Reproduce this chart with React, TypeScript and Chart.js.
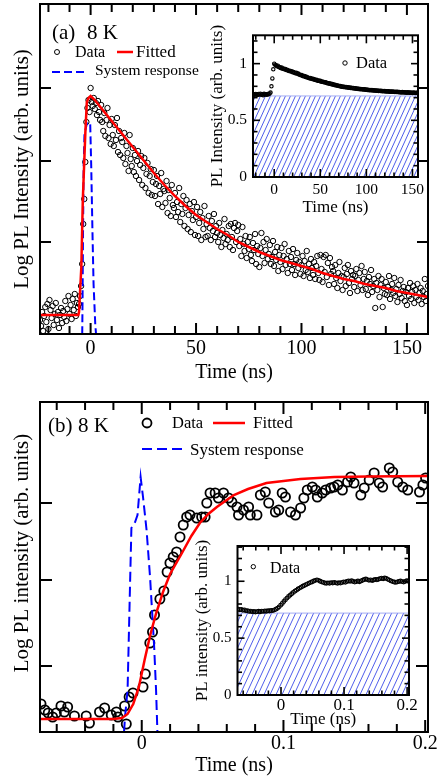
import React, { useEffect, useRef } from 'react';
import { Chart, registerables } from 'chart.js';

Chart.register(...registerables);
Chart.defaults.color = '#000';
const FONT = '"Liberation Serif", "Times New Roman", serif';
Chart.defaults.font.family = FONT;

// ---------------- Panel (a) main : log PL (arb. log units) vs time (ns)
const A_T0 = -24;
const A_DT = 0.5;
const A_DATA = [
  14, 8, 22, 3, 18, 27, 12, 30, 5, 34,
  24, 16, 28, 9, 20, 31, 14, 22, 6, 19,
  26, 11, 23, 17, 33, 13, 25, 38, 20, 29,
  15, 35, 24, 40, 18, 31, 27, 30, 38, 48,
  70, 110, 135, 172, 212, 226, 234, 222,
  246, 232, 228, 236, 225, 231, 219, 233, 222, 214,
  229, 212, 203, 221, 198, 214, 226, 196, 209, 190,
  215, 199, 188, 209, 194, 216, 182, 203, 179, 196,
  192, 176, 201, 170, 188, 181, 163, 199, 175, 168,
  186, 162, 179, 158, 173, 183, 154, 169, 178, 149,
  166, 176, 146, 160, 171, 141, 158, 165, 139, 152,
  164, 138, 150, 158, 130, 148, 140, 161, 127, 145,
  143, 131, 153, 121, 144, 136, 118, 149, 129, 126,
  141, 117, 132, 122, 146, 112, 130, 120, 138, 108,
  126, 134, 105, 119, 130, 102, 123, 114, 132, 99,
  117, 127, 98, 111, 122, 94, 116, 105, 128, 97,
  110, 98, 118, 106, 94, 113, 103, 120, 97, 108,
  101, 92, 111, 99, 87, 104, 96, 115, 90, 100,
  94, 108, 87, 110, 97, 84, 106, 111, 92, 103,
  109, 88, 95, 78, 107, 90, 83, 98, 76, 92,
  85, 97, 79, 73, 91, 84, 100, 70, 88, 80,
  67, 86, 101, 78, 92, 71, 84, 95, 75, 80,
  89, 70, 77, 93, 68, 82, 74, 87, 63, 79,
  72, 86, 65, 78, 90, 69, 75, 61, 83, 70,
  77, 64, 85, 70, 59, 74, 81, 66, 72, 60,
  69, 78, 58, 73, 64, 83, 62, 70, 56, 75,
  66, 59, 72, 55, 68, 78, 61, 54, 79, 65,
  52, 77, 62, 79, 57, 71, 49, 76, 60, 67,
  63, 50, 69, 56, 46, 61, 72, 53, 58, 44,
  57, 66, 48, 60, 69, 51, 41, 63, 55, 59,
  47, 58, 65, 43, 54, 61, 49, 68, 44, 55,
  62, 45, 53, 39, 57, 50, 64, 42, 48, 55,
  26, 51, 44, 58, 37, 49, 55, 27, 46, 40,
  52, 39, 47, 58, 35, 44, 50, 41, 56, 38,
  45, 32, 49, 40, 54, 36, 43, 47, 33, 42,
  29, 46, 38, 51, 35, 42, 48, 31, 44, 37,
  50, 34, 41, 46, 30, 43, 37, 55, 33, 40,
  48,
];
const A_FIT_T = [-24, -5.8, -5.5, -4.4, -3.7, -2.5, -1.8, -1.0, 0, 2, 5, 10, 15, 20, 25, 30, 35, 40, 45, 50, 55, 60, 65, 70, 75, 80, 85, 90, 95, 100, 105, 110, 115, 120, 125, 130, 135, 140, 145, 150, 155, 160];
const A_FIT_V = [19, 19, 22, 67, 134, 201, 232, 236, 238, 234, 226, 213, 200, 187, 174, 161, 149, 138, 128, 119, 112, 105, 99, 92, 87, 82, 78, 74, 71, 68, 65, 61, 58, 55, 53, 50, 48, 46, 43, 41, 39, 37];
const A_SYS_T = [-24, -4.0, -3.8, -3.6, -3.3, -2.9, -1.7, -0.2, 0.3, 0.9, 1.4, 2.2, 2.8, 160];
const A_SYS_V = [-6, -6, 40, 100, 167, 200, 211, 211, 167, 100, 50, 10, -6, -6];
const A_X_RANGE = [-24, 160];
const A_Y_RANGE = [0, 330];
const A_X_LABELS = [0, 50, 100, 150];
const A_X_MINOR = [-20, -10, 10, 20, 30, 40, 60, 70, 80, 90, 110, 120, 130, 140];
const A_Y_TICKS = [92, 173, 246];

// ---------------- Inset (a): linear PL
const AI_T0 = -23;
const AI_DT = 1;
const AI_DATA = [
  0.728, 0.731, 0.725, 0.733, 0.729, 0.724, 0.732, 0.727, 0.735, 0.726, 0.73, 0.722, 0.734, 0.728, 0.731, 0.726, 0.733, 0.729, 0.736,
  0.745, 0.8, 0.87, 0.95, 1.0, 0.99, 0.985, 0.978, 0.982, 0.97,
  0.968, 0.962, 0.966, 0.955, 0.958, 0.95, 0.953, 0.944, 0.947, 0.94,
  0.936, 0.938, 0.93, 0.932, 0.924, 0.927, 0.92, 0.916, 0.919, 0.91,
  0.912, 0.905, 0.903, 0.898, 0.9, 0.892, 0.889, 0.891, 0.883, 0.885,
  0.878, 0.876, 0.872, 0.874, 0.867, 0.869, 0.862, 0.864, 0.858, 0.855,
  0.857, 0.85, 0.852, 0.846, 0.848, 0.841, 0.843, 0.837, 0.839, 0.833,
  0.835, 0.829, 0.826, 0.828, 0.822, 0.824, 0.818, 0.82, 0.814, 0.816,
  0.81, 0.812, 0.807, 0.804, 0.806, 0.8, 0.802, 0.797, 0.799, 0.794,
  0.796, 0.792, 0.794, 0.79, 0.792, 0.788, 0.79, 0.786, 0.788, 0.784,
  0.785, 0.781, 0.783, 0.779, 0.781, 0.777, 0.779, 0.775, 0.777, 0.773,
  0.775, 0.771, 0.773, 0.77, 0.772, 0.768, 0.77, 0.766, 0.768, 0.765,
  0.767, 0.763, 0.765, 0.762, 0.764, 0.761, 0.763, 0.759, 0.761, 0.758,
  0.76, 0.757, 0.759, 0.756, 0.758, 0.755, 0.757, 0.754, 0.756, 0.753,
  0.755, 0.752, 0.754, 0.751, 0.753, 0.75, 0.752, 0.749, 0.751, 0.748,
  0.75, 0.748, 0.746, 0.749, 0.747, 0.745, 0.748, 0.746, 0.744, 0.747,
  0.745, 0.743, 0.746, 0.744, 0.742, 0.745, 0.743, 0.741, 0.744, 0.742, 0.745,
];
const AI_X_RANGE = [-23, 156];
const AI_Y_RANGE = [0, 1.25];
const AI_BASE = 0.715;
const AI_X_LABELS = [0, 50, 100, 150];
const AI_X_MINOR = [-20, -10, 10, 20, 30, 40, 60, 70, 80, 90, 110, 120, 130, 140];
const AI_Y_LABELS = [0, 0.5, 1];
const AI_Y_MINOR = [0.1, 0.2, 0.3, 0.4, 0.6, 0.7, 0.8, 0.9, 1.1, 1.2];

// ---------------- Panel (b) main
const B_DATA_T = [
  -0.0711, -0.0684, -0.066, -0.0629, -0.0603, -0.057, -0.0546, -0.0523, -0.0475, -0.0392,
  -0.0369, -0.0298, -0.0262, -0.0215, -0.0179, -0.0168, -0.0121, -0.0109, -0.0089, -0.0062,
  0.0009, 0.0025, 0.0057, 0.0076, 0.009, 0.0128, 0.0156, 0.0179, 0.0199, 0.0222,
  0.0246, 0.027, 0.0293, 0.0317, 0.034, 0.0388, 0.0423, 0.0447, 0.0459, 0.0482,
  0.0518, 0.0541, 0.0577, 0.0612, 0.0636, 0.0672, 0.0683, 0.0718, 0.0754, 0.0766,
  0.0813, 0.0837, 0.0872, 0.0896, 0.0943, 0.0967, 0.0991, 0.1014, 0.105, 0.1085,
  0.1121, 0.1144, 0.1168, 0.1204, 0.1227, 0.1239, 0.1274, 0.1298, 0.1333, 0.1357,
  0.1383, 0.1416, 0.1452, 0.1475, 0.1498, 0.1546, 0.157, 0.1605, 0.164, 0.1676,
  0.17, 0.1747, 0.1771, 0.1806, 0.1842, 0.1877, 0.196, 0.1984, 0.2003,
];
const B_DATA_V = [
  28, 22, 19, 15, 19, 26, 20, 25, 16, 16,
  9, 20, 24, 17, 20, 15, 26, 8, 35, 39,
  45, 58, 89, 100, 117, 133, 141, 160, 169, 175,
  180, 195, 207, 215, 217, 214, 215, 215, 229, 239,
  239, 234, 239, 234, 230, 225, 217, 222, 225, 217,
  217, 237, 240, 229, 220, 222, 239, 235, 220, 217,
  224, 234, 242, 245, 242, 235, 239, 242, 244, 245,
  247, 242, 250, 255, 249, 237, 244, 252, 259, 249,
  245, 264, 260, 250, 245, 242, 240, 247, 254,
];
const B_FIT_T = [-0.0718, -0.02, -0.014, -0.01, -0.006, -0.002, 0.002, 0.006, 0.01, 0.015, 0.02, 0.028, 0.035, 0.041, 0.047, 0.053, 0.06, 0.065, 0.075, 0.088, 0.1, 0.112, 0.136, 0.16, 0.202];
const B_FIT_V = [13, 13, 14, 18, 28, 45, 72, 97, 118, 140, 158, 178, 196, 209, 218, 225, 232, 237, 243, 249, 251, 253, 255, 255.5, 256];
const B_SYS_T = [-0.0718, -0.0128, -0.0118, -0.01, -0.0083, -0.0073, -0.0047, -0.003, -0.0008, 0.0009, 0.0034, 0.0059, 0.0087, 0.0101, 0.0112, 0.202];
const B_SYS_V = [-6, -6, 15, 42, 145, 204, 210, 217, 255, 235, 202, 154, 87, 42, -6, -6];
const B_X_RANGE = [-0.0718, 0.202];
const B_Y_RANGE = [0, 330];
const B_X_LABELS = [0, 0.1, 0.2];
const B_X_MINOR = [-0.06, -0.04, -0.02, 0.02, 0.04, 0.06, 0.08, 0.12, 0.14, 0.16, 0.18];
const B_Y_TICKS = [66, 152, 229];

// ---------------- Inset (b)
const BI_T0 = -0.068;
const BI_DT = 0.0025;
const BI_DATA = [
  0.755, 0.75, 0.752, 0.745, 0.748, 0.74, 0.742, 0.735, 0.737, 0.731,
  0.734, 0.73, 0.733, 0.736, 0.732, 0.737, 0.735, 0.739, 0.736, 0.741,
  0.739, 0.744, 0.742, 0.748, 0.755, 0.763, 0.775, 0.79, 0.805, 0.822,
  0.838, 0.852, 0.866, 0.878, 0.89, 0.902, 0.913, 0.922, 0.932, 0.94,
  0.948, 0.956, 0.963, 0.97, 0.977, 0.984, 0.99, 0.996, 1.002, 1.008,
  1.012, 1.008, 1.0, 0.995, 0.99, 0.985, 0.982, 0.986, 0.983, 0.988,
  0.985, 0.99, 0.986, 0.982, 0.987, 0.984, 0.99, 0.995, 0.991, 0.998,
  1.003, 0.999, 1.004, 0.998, 0.993, 0.997, 1.002, 0.996, 1.003, 1.009,
  1.015, 1.02, 1.014, 1.008, 1.012, 1.006, 1.011, 1.017, 1.013, 1.018,
  1.023, 1.027, 1.022, 1.028, 1.024, 1.017, 1.01, 1.003, 0.997, 0.993,
  0.99, 0.995, 0.998, 1.002, 0.997, 0.994, 0.999, 1.004, 1.0,
];
const BI_X_RANGE = [-0.069, 0.203];
const BI_Y_RANGE = [0, 1.31];
const BI_BASE = 0.72;
const BI_X_LABELS = [0, 0.1, 0.2];
const BI_X_MINOR = [-0.06, -0.04, -0.02, 0.02, 0.04, 0.06, 0.08, 0.12, 0.14, 0.16, 0.18];
const BI_Y_LABELS = [0, 0.5, 1];
const BI_Y_MINOR = [0.1, 0.2, 0.3, 0.4, 0.6, 0.7, 0.8, 0.9, 1.1, 1.2, 1.3];

// ---------------- helpers
const zip = (ts: number[], vs: number[]) => ts.map((t, i) => ({ x: t, y: vs[i] }));
const seq = (t0: number, dt: number, vs: number[]) => vs.map((v, i) => ({ x: +(t0 + i * dt).toFixed(5), y: v }));

function makeHatch(w: number, h: number) {
  const c = document.createElement('canvas');
  c.width = w; c.height = h;
  const g = c.getContext('2d')!;
  g.fillStyle = '#ffffff';
  g.fillRect(0, 0, w, h);
  g.strokeStyle = 'rgba(60,75,232,0.9)';
  g.lineWidth = 1;
  for (const k of [-1, 0, 1]) {
    g.beginPath();
    g.moveTo(k * w, h);
    g.lineTo(k * w + w, 0);
    g.stroke();
  }
  return g.createPattern(c, 'repeat');
}

function overlayPlugin(spec: any) {
  return {
    id: 'frameOverlay',
    beforeDraw(chart: any) {
      if (!spec.white) return;
      const { ctx, chartArea: a } = chart;
      ctx.save();
      ctx.fillStyle = '#fff';
      ctx.fillRect(a.left, a.top, a.right - a.left, a.bottom - a.top);
      ctx.restore();
    },
    afterDraw(chart: any) {
      const { ctx, chartArea: a, scales } = chart;
      const xs = scales.x, ys = scales.y;
      ctx.save();
      ctx.strokeStyle = '#000';
      ctx.lineWidth = spec.tickW;
      const seg = (x1: number, y1: number, x2: number, y2: number) => {
        ctx.beginPath(); ctx.moveTo(x1, y1); ctx.lineTo(x2, y2); ctx.stroke();
      };
      const xGroups: [number[], number][] = [[spec.xMajor, spec.majorLen], [spec.xMinor, spec.minorLen]];
      for (const [vals, len] of xGroups) {
        for (const v of vals) {
          const p = xs.getPixelForValue(v);
          seg(p, a.bottom, p, a.bottom - len);
          seg(p, a.top, p, a.top + len);
        }
      }
      const yGroups: [number[], number][] = [[spec.yMajor, spec.yMajorLen ?? spec.majorLen], [spec.yMinor, spec.minorLen]];
      for (const [vals, len] of yGroups) {
        for (const v of vals) {
          const p = ys.getPixelForValue(v);
          seg(a.left, p, a.left + len, p);
          seg(a.right, p, a.right - len, p);
        }
      }
      ctx.lineWidth = spec.frameW;
      ctx.strokeRect(a.left, a.top, a.right - a.left, a.bottom - a.top);
      for (const it of spec.ann) {
        if (it.k === 'text') {
          ctx.fillStyle = '#000';
          ctx.font = `${it.s}px ${FONT}`;
          ctx.textAlign = 'left';
          ctx.textBaseline = 'alphabetic';
          ctx.fillText(it.t, it.x, it.y);
        } else if (it.k === 'vtext') {
          ctx.save();
          ctx.fillStyle = '#000';
          ctx.font = `${it.s}px ${FONT}`;
          ctx.textAlign = 'center';
          ctx.textBaseline = 'middle';
          ctx.translate(it.x, it.y);
          ctx.rotate(-Math.PI / 2);
          ctx.fillText(it.t, 0, 0);
          ctx.restore();
        } else if (it.k === 'circle') {
          ctx.setLineDash([]);
          ctx.lineWidth = it.w;
          ctx.strokeStyle = '#000';
          ctx.beginPath(); ctx.arc(it.x, it.y, it.r, 0, Math.PI * 2); ctx.stroke();
        } else if (it.k === 'line') {
          ctx.lineWidth = it.w;
          ctx.strokeStyle = it.c;
          ctx.setLineDash(it.d || []);
          seg(it.x1, it.y, it.x2, it.y);
          ctx.setLineDash([]);
        }
      }
      ctx.restore();
    },
  };
}

function makeConfig(spec: any) {
  const [aL, aT, aR, aB] = spec.area;
  return {
    type: 'line',
    data: { datasets: spec.datasets },
    options: {
      responsive: false,
      animation: false,
      devicePixelRatio: 1,
      events: [],
      layout: { padding: { left: 0, top: aT, right: spec.w - aR, bottom: 0 } },
      plugins: { legend: { display: false }, tooltip: { enabled: false } },
      elements: { line: { tension: 0 } },
      scales: {
        x: {
          type: 'linear',
          position: 'bottom',
          min: spec.xr[0],
          max: spec.xr[1],
          grid: { display: false, drawTicks: false },
          border: { display: false },
          afterFit: (s: any) => { s.height = spec.h - aB; },
          afterBuildTicks: (s: any) => { s.ticks = spec.xLabels.map((v: number) => ({ value: v })); },
          ticks: {
            autoSkip: false, maxRotation: 0, minRotation: 0,
            padding: spec.xLabelPad,
            font: { family: FONT, size: spec.xLabelSize, lineHeight: 1.2 },
            color: '#000',
            callback: (v: any) => String(+Number(v).toFixed(4)),
          },
          title: {
            display: true, text: spec.xTitle, color: '#000',
            font: { family: FONT, size: spec.xTitleSize, lineHeight: 1.2 },
            padding: { top: 0, bottom: spec.xTitlePad },
          },
        },
        y: {
          type: 'linear',
          position: 'left',
          min: spec.yr[0],
          max: spec.yr[1],
          grid: { display: false, drawTicks: false },
          border: { display: false },
          afterFit: (s: any) => { s.width = aL; },
          afterBuildTicks: (s: any) => { s.ticks = spec.yLabels.map((v: number) => ({ value: v })); },
          ticks: {
            display: spec.yLabelsShow,
            autoSkip: false,
            padding: spec.yLabelPad || 0,
            font: { family: FONT, size: spec.yLabelSize || 12, lineHeight: 1.2 },
            color: '#000',
            callback: (v: any) => String(+Number(v).toFixed(4)),
          },
          title: {
            display: !!spec.yTitle, text: spec.yTitle || '', color: '#000',
            font: { family: FONT, size: spec.yTitleSize || 12, lineHeight: 1.2 },
            padding: { top: spec.yTitlePad || 0, bottom: 0 },
          },
        },
      },
    },
    plugins: [overlayPlugin(spec)],
  };
}

const dataStyle = (r: number, w: number) => ({
  showLine: false,
  pointStyle: 'circle',
  pointRadius: r,
  pointHoverRadius: r,
  pointBorderWidth: w,
  pointBorderColor: '#000',
  pointBackgroundColor: 'rgba(0,0,0,0)',
  borderColor: '#000',
});
const lineStyle = (color: string, w: number, dash: number[] = []) => ({
  showLine: true,
  borderColor: color,
  borderWidth: w,
  borderDash: dash,
  pointRadius: 0,
  pointHoverRadius: 0,
  fill: false,
});

function specA() {
  return {
    w: 440, h: 390, area: [40, 4, 428, 334],
    xr: A_X_RANGE, yr: A_Y_RANGE,
    xLabels: A_X_LABELS, xLabelSize: 20, xLabelPad: 3,
    xTitle: 'Time (ns)', xTitleSize: 20, xTitlePad: 5.5,
    yLabels: A_Y_TICKS, yLabelsShow: false,
    yTitle: 'Log PL Intensity (arb. units)', yTitleSize: 21, yTitlePad: 9.5,
    xMajor: A_X_LABELS, xMinor: A_X_MINOR, yMajor: A_Y_TICKS, yMinor: [],
    majorLen: 11, minorLen: 8, tickW: 2, frameW: 2,
    white: false,
    ann: [
      { k: 'text', t: '(a)', x: 52, y: 38.5, s: 21 },
      { k: 'text', t: '8 K', x: 87, y: 38.5, s: 21 },
      { k: 'circle', x: 57, y: 52, r: 2.5, w: 1 },
      { k: 'text', t: 'Data', x: 75, y: 56.7, s: 16 },
      { k: 'line', x1: 117, x2: 133, y: 52, c: '#ff0000', w: 2.5 },
      { k: 'text', t: 'Fitted', x: 136, y: 56.7, s: 17 },
      { k: 'line', x1: 52, x2: 88, y: 72, c: '#0000ff', w: 2, d: [8, 4] },
      { k: 'text', t: 'System response', x: 95, y: 75.3, s: 15.5 },
    ],
    datasets: [
      { data: zip(A_FIT_T, A_FIT_V), ...lineStyle('#ff0000', 2.5) },
      { data: zip(A_SYS_T, A_SYS_V), ...lineStyle('#0000ff', 2, [8, 4]) },
      { data: seq(A_T0, A_DT, A_DATA), ...dataStyle(2.7, 1) },
    ],
  };
}

function specAI() {
  return {
    w: 245, h: 200, area: [58, 14, 223, 157],
    xr: AI_X_RANGE, yr: AI_Y_RANGE,
    xLabels: AI_X_LABELS, xLabelSize: 15.5, xLabelPad: 3.7,
    xTitle: 'Time (ns)', xTitleSize: 17, xTitlePad: 1.8,
    yLabels: AI_Y_LABELS, yLabelsShow: true, yLabelSize: 15.5, yLabelPad: 6,
    yTitle: 'PL Intensity (arb. units)', yTitleSize: 17, yTitlePad: 12.8,
    xMajor: AI_X_LABELS, xMinor: AI_X_MINOR, yMajor: AI_Y_LABELS, yMinor: AI_Y_MINOR,
    majorLen: 8, yMajorLen: 7, minorLen: 4.5, tickW: 1.6, frameW: 2,
    white: true,
    ann: [
      { k: 'circle', x: 150, y: 43, r: 2.2, w: 1 },
      { k: 'text', t: 'Data', x: 161, y: 48.3, s: 16.5 },
    ],
    datasets: [
      { data: seq(AI_T0, AI_DT, AI_DATA), ...dataStyle(1.7, 1.1) },
      {
        data: [{ x: AI_X_RANGE[0], y: AI_BASE }, { x: AI_X_RANGE[1], y: AI_BASE }],
        showLine: true, fill: 'origin', backgroundColor: makeHatch(5, 11),
        borderColor: '#a3abf3', borderWidth: 1, pointRadius: 0,
      },
    ],
  };
}

function specB() {
  return {
    w: 440, h: 388, area: [40, 12, 428, 342],
    xr: B_X_RANGE, yr: B_Y_RANGE,
    xLabels: B_X_LABELS, xLabelSize: 20, xLabelPad: 0,
    xTitle: 'Time (ns)', xTitleSize: 20, xTitlePad: 0.5,
    yLabels: B_Y_TICKS, yLabelsShow: false,
    yTitle: '', yTitleSize: 21, yTitlePad: 0,
    xMajor: B_X_LABELS, xMinor: B_X_MINOR, yMajor: B_Y_TICKS, yMinor: [],
    majorLen: 12, minorLen: 8, tickW: 2, frameW: 2,
    white: false,
    ann: [
      { k: 'vtext', t: 'Log PL intensity (arb. units)', x: 22, y: 163, s: 21 },
      { k: 'text', t: '(b)', x: 48, y: 41.7, s: 21 },
      { k: 'text', t: '8 K', x: 78, y: 41.7, s: 21 },
      { k: 'circle', x: 147, y: 33, r: 4.5, w: 1.8 },
      { k: 'text', t: 'Data', x: 172, y: 38, s: 16.5 },
      { k: 'line', x1: 213, x2: 245, y: 33, c: '#ff0000', w: 2.5 },
      { k: 'text', t: 'Fitted', x: 253, y: 38, s: 17 },
      { k: 'line', x1: 142, x2: 183, y: 59, c: '#0000ff', w: 2, d: [10, 5] },
      { k: 'text', t: 'System response', x: 190, y: 65, s: 17 },
    ],
    datasets: [
      { data: zip(B_FIT_T, B_FIT_V), ...lineStyle('#ff0000', 2.5) },
      { data: zip(B_SYS_T, B_SYS_V), ...lineStyle('#0000ff', 2, [10, 5]) },
      { data: zip(B_DATA_T, B_DATA_V), ...dataStyle(4.6, 1.8) },
    ],
  };
}

function specBI() {
  return {
    w: 250, h: 200, area: [47.5, 16, 219, 165],
    xr: BI_X_RANGE, yr: BI_Y_RANGE,
    xLabels: BI_X_LABELS, xLabelSize: 17, xLabelPad: 0.8,
    xTitle: 'Time (ns)', xTitleSize: 17, xTitlePad: 0,
    yLabels: BI_Y_LABELS, yLabelsShow: true, yLabelSize: 15, yLabelPad: 6,
    yTitle: 'PL intensity (arb. units)', yTitleSize: 17, yTitlePad: 2.8,
    xMajor: BI_X_LABELS, xMinor: BI_X_MINOR, yMajor: BI_Y_LABELS, yMinor: BI_Y_MINOR,
    majorLen: 8, yMajorLen: 7, minorLen: 4.5, tickW: 1.6, frameW: 2,
    white: true,
    ann: [
      { k: 'circle', x: 63.3, y: 36.7, r: 2.2, w: 1 },
      { k: 'text', t: 'Data', x: 80, y: 43.3, s: 16 },
    ],
    datasets: [
      { data: seq(BI_T0, BI_DT, BI_DATA), ...dataStyle(1.9, 1.1) },
      {
        data: [{ x: BI_X_RANGE[0], y: BI_BASE }, { x: BI_X_RANGE[1], y: BI_BASE }],
        showLine: true, fill: 'origin', backgroundColor: makeHatch(6, 13),
        borderColor: '#a3abf3', borderWidth: 1, pointRadius: 0,
      },
    ],
  };
}

function PlotCanvas(props: { left: number; top: number; width: number; height: number; build: () => any }) {
  const ref = useRef<HTMLCanvasElement | null>(null);
  useEffect(() => {
    if (!ref.current) return;
    const chart = new Chart(ref.current, makeConfig(props.build()) as any);
    return () => chart.destroy();
  }, []);
  return (
    <canvas
      ref={ref}
      width={props.width}
      height={props.height}
      style={{ position: 'absolute', left: props.left, top: props.top, width: props.width, height: props.height }}
    />
  );
}

export default function App() {
  return (
    <div style={{ position: 'absolute', left: 0, top: 0, width: 440, height: 778, background: '#fff', overflow: 'hidden' }}>
      <PlotCanvas left={0} top={0} width={440} height={390} build={specA} />
      <PlotCanvas left={195} top={20} width={245} height={200} build={specAI} />
      <PlotCanvas left={0} top={390} width={440} height={388} build={specB} />
      <PlotCanvas left={190} top={530} width={250} height={200} build={specBI} />
    </div>
  );
}
